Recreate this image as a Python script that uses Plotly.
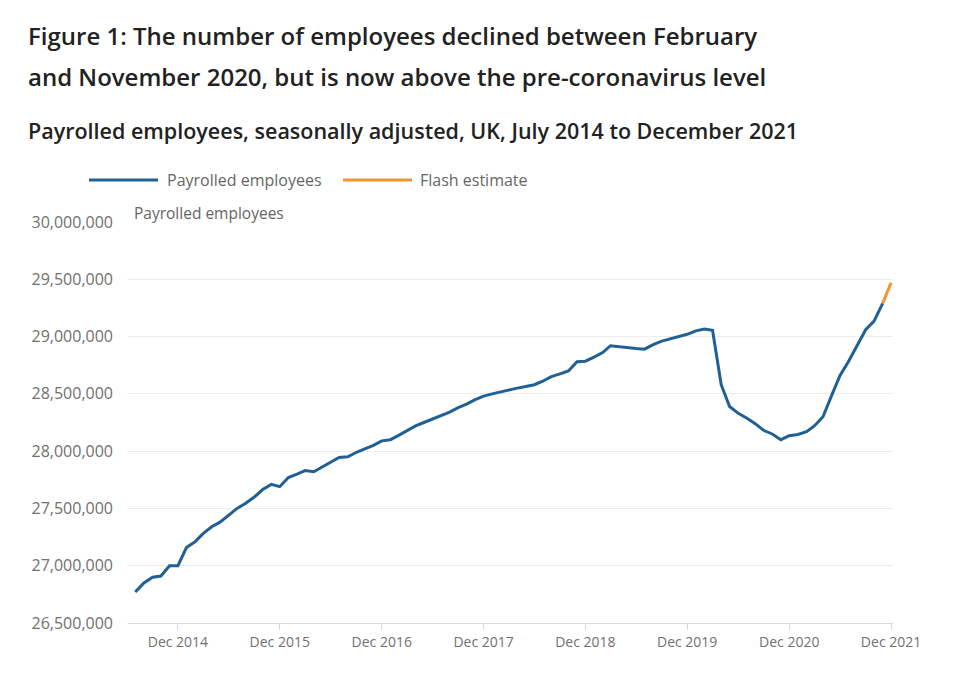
import plotly.graph_objects as go
import pandas as pd

# ---- data (millions of payrolled employees) ----
start_month = "2014-07-01"
payrolled_values_m = [
    # 2014 Jul-Dec
    26.77, 26.85, 26.90, 26.91, 27.00, 27.00,
    # 2015
    27.16, 27.21, 27.28, 27.34, 27.38, 27.44, 27.50, 27.545, 27.60, 27.665, 27.71, 27.69,
    # 2016
    27.77, 27.80, 27.83, 27.82, 27.86, 27.90, 27.945, 27.95, 27.99, 28.02, 28.05, 28.09,
    # 2017
    28.10, 28.14, 28.18, 28.22, 28.25, 28.28, 28.31, 28.34, 28.38, 28.41, 28.45, 28.48,
    # 2018
    28.50, 28.515, 28.53, 28.55, 28.565, 28.58, 28.61, 28.65, 28.675, 28.70, 28.78, 28.785,
    # 2019
    28.82, 28.86, 28.92, 28.91, 28.90, 28.895, 28.89, 28.93, 28.96, 28.98, 29.00, 29.02,
    # 2020
    29.05, 29.065, 29.055, 28.58, 28.39, 28.33, 28.29, 28.24, 28.18, 28.15, 28.10, 28.135,
    # 2021 Jan-Nov
    28.145, 28.17, 28.22, 28.30, 28.48, 28.66, 28.78, 28.92, 29.06, 29.135, 29.29,
]
flash_months = ["2021-11-01", "2021-12-01"]
flash_values_m = [29.29, 29.47]

x_tick_dates = ["2014-12-01", "2015-12-01", "2016-12-01", "2017-12-01",
                "2018-12-01", "2019-12-01", "2020-12-01", "2021-12-01"]
x_tick_labels = ["Dec 2014", "Dec 2015", "Dec 2016", "Dec 2017",
                 "Dec 2018", "Dec 2019", "Dec 2020", "Dec 2021"]
y_ticks = [26500000, 27000000, 27500000, 28000000, 28500000, 29000000, 29500000, 30000000]

title_lines = ["Figure 1: The number of employees declined between February",
               "and November 2020, but is now above the pre-coronavirus level"]
subtitle = "Payrolled employees, seasonally adjusted, UK, July 2014 to December 2021"
legend_names = ["Payrolled employees", "Flash estimate"]

BLUE = "#206095"
ORANGE = "#f39431"
FONT = "Open Sans"

months = pd.date_range(start_month, periods=len(payrolled_values_m), freq="MS")
payrolled = [v * 1e6 for v in payrolled_values_m]
flash = [v * 1e6 for v in flash_values_m]

fig = go.Figure()
fig.add_trace(go.Scatter(x=months, y=payrolled, mode="lines", name=legend_names[0],
                         line=dict(color=BLUE, width=3), showlegend=False))
fig.add_trace(go.Scatter(x=pd.to_datetime(flash_months), y=flash, mode="lines",
                         name=legend_names[1], line=dict(color=ORANGE, width=3),
                         showlegend=False))

L, R, T, B = 128, 67, 222, 55
W, H = 960, 678
pw, ph = W - L - R, H - T - B

def px(xp):
    return (xp - L) / pw

def py(yp):
    return (H - B - yp) / ph

annotations = []
for txt, ypix in ((title_lines[0], 35), (title_lines[1], 76)):
    annotations.append(dict(text=txt, x=px(26), y=py(ypix), xref="paper", yref="paper",
                            xanchor="left", yanchor="middle", showarrow=False,
                            font=dict(family=FONT, size=24, weight=600, color="#222222")))
annotations.append(dict(text=subtitle, x=px(26), y=py(130),
                        xref="paper", yref="paper", xanchor="left", yanchor="middle",
                        showarrow=False,
                        font=dict(family=FONT, size=21.5, weight=600, color="#222222")))
# y axis title
annotations.append(dict(text="Payrolled employees", x=px(132), y=py(213),
                        xref="paper", yref="paper", xanchor="left", yanchor="middle",
                        showarrow=False, font=dict(family=FONT, size=15.5, color="#666666")))
# legend (manual)
shapes = []
leg_items = [(89, 158, 165, BLUE, legend_names[0]), (343, 412, 418, ORANGE, legend_names[1])]
for x0, x1, xt, col, name in leg_items:
    shapes.append(dict(type="line", xref="paper", yref="paper", x0=px(x0), x1=px(x1),
                       y0=py(180), y1=py(180), line=dict(color=col, width=3)))
    annotations.append(dict(text=name, x=px(xt), y=py(180), xref="paper", yref="paper",
                            xanchor="left", yanchor="middle", showarrow=False,
                            font=dict(family=FONT, size=16, color="#666666")))

fig.update_layout(
    width=W, height=H,
    margin=dict(l=L, r=R, t=T, b=B),
    paper_bgcolor="white", plot_bgcolor="white",
    showlegend=False,
    annotations=annotations, shapes=shapes,
    font=dict(family=FONT, color="#707070"),
)
fig.update_xaxes(
    type="date",
    range=["2014-06-05", "2021-12-08"],
    tickvals=pd.to_datetime(x_tick_dates), ticktext=x_tick_labels,
    tickfont=dict(family=FONT, size=14, color="#707070"),
    showgrid=False, zeroline=False,
    showline=True, linecolor="#d9d9d9", linewidth=1,
    ticks="outside", ticklen=6, tickcolor="#d9d9d9",
)
fig.update_yaxes(
    range=[26500000, 30000000],
    tickvals=y_ticks, tickformat=",d",
    tickfont=dict(family=FONT, size=16, color="#707070"),
    showgrid=True, gridcolor="#ececec", gridwidth=1,
    zeroline=False, showline=False, ticks="", ticklabelstandoff=14,
)

fig.write_html("out.html")
